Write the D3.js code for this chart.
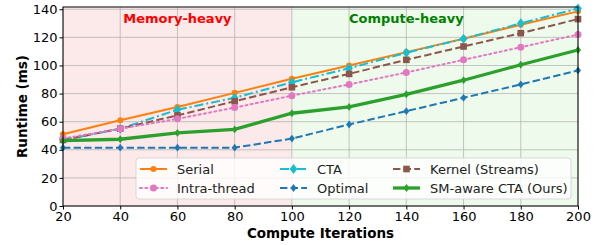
<!DOCTYPE html>
<html>
<head>
<meta charset="utf-8">
<script src="https://cdn.jsdelivr.net/npm/d3@7"></script>
<style>
body { margin: 0; background: #fff; }
svg text { font-family: "DejaVu Sans", sans-serif; }
</style>
</head>
<body>
<svg width="600" height="245"></svg>
<script>
const iterations = [20, 40, 60, 80, 100, 120, 140, 160, 180, 200]
const serial = [51, 61, 70.5, 80.5, 90.5, 100, 109.5, 119, 129, 138.5]
const intraThread = [48, 55, 62, 70, 78.5, 86.5, 95, 104, 113, 122]
const cta = [47, 55, 68.5, 77, 88, 98, 109, 119, 130, 140.5]
const optimal = [41.5, 41.5, 41.5, 41.5, 48, 58, 67.5, 77, 86.5, 96.5]
const kernelStreams = [47, 55, 64.5, 74.5, 84.5, 94, 104, 113.5, 123, 133]
const smAware = [46.5, 47.5, 52, 54.5, 66, 70.5, 79.5, 89.5, 100.5, 111]
const yTicks = [0, 20, 40, 60, 80, 100, 120, 140]

const series = [
  { name: "Serial", values: serial, color: "#ff7f0e", dash: null, width: 2, marker: "circle", size: 3 },
  { name: "CTA", values: cta, color: "#17becf", dash: "9,3,2,3", width: 2, marker: "diamond", size: 3.8 },
  { name: "Kernel (Streams)", values: kernelStreams, color: "#8c564b", dash: "7.4,3.2", width: 2, marker: "square", size: 3.3 },
  { name: "Intra-thread", values: intraThread, color: "#e377c2", dash: "2,3.3", width: 2, marker: "circle", size: 3.5 },
  { name: "Optimal", values: optimal, color: "#1f77b4", dash: "7.4,3.2", width: 2, marker: "diamond", size: 3 },
  { name: "SM-aware CTA (Ours)", values: smAware, color: "#2ca02c", dash: null, width: 3.3, marker: "diamond", size: 3 }
]
const legendOrder = ["Serial", "Intra-thread", "CTA", "Optimal", "Kernel (Streams)", "SM-aware CTA (Ours)"]

const svg = d3.select("svg")
const m = { left: 63, right: 22, top: 7, bottom: 39 }
const width = 600, height = 245

const x = d3.scaleLinear().domain([20, 200]).range([m.left, width - m.right])
const y = d3.scaleLinear().domain([0, 141.6]).range([height - m.bottom, m.top])

// regions
svg.append("rect").attr("x", x(20)).attr("y", y(141.6)).attr("width", x(100) - x(20)).attr("height", y(0) - y(141.6)).style("fill", "#fce9e9")
svg.append("rect").attr("x", x(100)).attr("y", y(141.6)).attr("width", x(200) - x(100)).attr("height", y(0) - y(141.6)).style("fill", "#eefbec")

// grid
const grid = svg.append("g")
grid.selectAll(".gx").data(iterations).enter().append("line")
  .attr("x1", d => x(d)).attr("x2", d => x(d)).attr("y1", y(0)).attr("y2", y(141.6))
  .style("stroke", "#b0b0b0").style("stroke-width", 0.9).style("opacity", 0.8)
grid.selectAll(".gy").data(yTicks).enter().append("line")
  .attr("x1", x(20)).attr("x2", x(200)).attr("y1", d => y(d)).attr("y2", d => y(d))
  .style("stroke", "#b0b0b0").style("stroke-width", 0.9).style("opacity", 0.8)

svg.append("text").attr("x", x(60)).attr("y", 23).attr("text-anchor", "middle")
  .style("font-size", "13px").style("font-weight", "bold").style("fill", "#ff0000").text("Memory-heavy")
svg.append("text").attr("x", x(140)).attr("y", 23).attr("text-anchor", "middle")
  .style("font-size", "13px").style("font-weight", "bold").style("fill", "#008000").text("Compute-heavy")

const line = d3.line().x((d, i) => x(iterations[i])).y(d => y(d))

function drawMarker(g, type, cx, cy, s, color) {
  if (type === "circle") g.append("circle").attr("cx", cx).attr("cy", cy).attr("r", s).style("fill", color)
  else if (type === "square") g.append("rect").attr("x", cx - s).attr("y", cy - s).attr("width", 2 * s).attr("height", 2 * s).style("fill", color)
  else g.append("path").attr("d", `M${cx},${cy - s * 1.3}L${cx + s},${cy}L${cx},${cy + s * 1.3}L${cx - s},${cy}Z`).style("fill", color)
}

const plot = svg.append("g")
series.forEach(s => {
  plot.append("path").datum(s.values).attr("d", line)
    .style("fill", "none").style("stroke", s.color).style("stroke-width", s.width)
    .style("stroke-dasharray", s.dash).style("stroke-linecap", s.dash === "2,3.3" ? "round" : "butt")
  s.values.forEach((v, i) => drawMarker(plot, s.marker, x(iterations[i]), y(v), s.size, s.color))
})

// axes
const xAxis = d3.axisBottom(x).tickValues(iterations).tickSize(3.5).tickPadding(2)
const yAxis = d3.axisLeft(y).tickValues(yTicks).tickSize(3.5).tickPadding(2)
const xg = svg.append("g").attr("transform", `translate(0,${y(0)})`).call(xAxis)
const yg = svg.append("g").attr("transform", `translate(${x(20)},0)`).call(yAxis)
;[xg, yg].forEach(g => {
  g.select(".domain").remove()
  g.selectAll("text").style("font-size", "13px").style("fill", "#000").style("font-family", "DejaVu Sans")
  g.selectAll("line").style("stroke", "#000")
})
svg.append("rect").attr("x", x(20)).attr("y", y(141.6)).attr("width", x(200) - x(20)).attr("height", y(0) - y(141.6))
  .style("fill", "none").style("stroke", "#000").style("stroke-width", 1)

svg.append("text").attr("x", (x(20) + x(200)) / 2).attr("y", 238).attr("text-anchor", "middle")
  .style("font-size", "13.5px").style("font-weight", "bold").text("Compute Iterations")
svg.append("text").attr("transform", `translate(27,${(y(0) + y(141.6)) / 2}) rotate(-90)`).attr("text-anchor", "middle")
  .style("font-size", "13.5px").style("font-weight", "bold").text("Runtime (ms)")

// legend
const lg = svg.append("g")
lg.append("rect").attr("x", 136).attr("y", 158).attr("width", 435).attr("height", 41).attr("rx", 3)
  .style("fill", "#fff").style("fill-opacity", 0.8).style("stroke", "#d0d0d0").style("stroke-width", 0.8)
const colX = [140, 280, 393]
const rowY = [169, 188]
legendOrder.forEach((name, k) => {
  const s = series.find(d => d.name === name)
  const cx = colX[Math.floor(k / 2)], cy = rowY[k % 2]
  lg.append("line").attr("x1", cx).attr("x2", cx + 27).attr("y1", cy).attr("y2", cy)
    .style("stroke", s.color).style("stroke-width", s.width).style("stroke-dasharray", s.dash)
    .style("stroke-linecap", s.dash === "2,3.3" ? "round" : "butt")
  drawMarker(lg, s.marker, cx + 13.5, cy, s.size, s.color)
  lg.append("text").attr("x", cx + 37).attr("y", cy + 4.5).style("font-size", "13px").style("fill", "#222").text(name)
})
</script>
</body>
</html>
